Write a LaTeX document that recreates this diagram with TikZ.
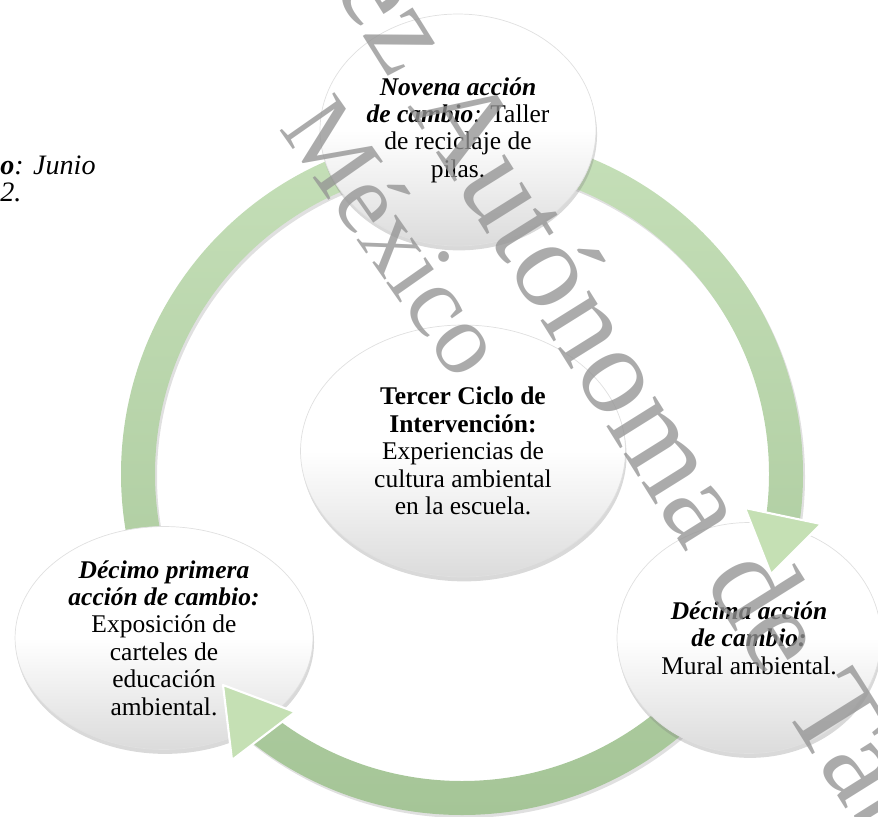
\documentclass[tikz,border=0pt]{standalone}
\usepackage{fontspec}
\setmainfont{Liberation Serif}
\usetikzlibrary{shapes.geometric,shadows}
\definecolor{ringtop}{RGB}{197,223,184}
\definecolor{ringbot}{RGB}{165,197,151}
\definecolor{tipfill}{RGB}{197,224,180}
\begin{document}
\begin{tikzpicture}[x=0.02cm,y=-0.02cm, line join=round,
	bubble/.style={ellipse, inner sep=0pt, outer sep=0pt, align=center,
		draw=black!12, line width=0.4pt,
		top color=white, bottom color=black!14, middle color=white,
		drop shadow={opacity=0.3, shadow xshift=0.6pt, shadow yshift=-2.5pt},
		font=\fontsize{14.5}{15.6}\selectfont},
	tip/.style={fill=tipfill, draw=white, line width=1.2pt},
	wmark/.style={text=black!42, opacity=0.78, anchor=base west, inner sep=0pt},
	side/.style={anchor=base west, inner sep=0pt, font=\fontsize{16}{18}\selectfont}]
	\def\cx{462} \def\cy{474}
	\def\rout{341} \def\rin{307}
	\useasboundingbox (0,0) rectangle (878,817);
	\clip (0,0) rectangle (878,817);
	% anillo
	\fill[black, opacity=0.12, even odd rule] (\cx+2,\cy+3) circle[radius=\rout] (\cx+2,\cy+3) circle[radius=\rin];
	\path[top color=ringtop, bottom color=ringbot, even odd rule] (\cx,\cy) circle[radius=\rout] (\cx,\cy) circle[radius=\rin];
	% circulos
	\node[bubble, minimum width=5.52cm, minimum height=4.64cm] (novena) at (458,130)
		{\textbf{\textit{Novena acción}}\\\textbf{\textit{de cambio}}\textit{:} Taller\\de reciclaje de\\pilas.};
	\node[bubble, minimum width=6.5cm, minimum height=5.04cm] (tercer) at (463,451)
		{\textbf{Tercer Ciclo de}\\\textbf{Intervención:}\\Experiencias de\\cultura ambiental\\en la escuela.};
	\node[bubble, minimum width=5.96cm, minimum height=4.46cm] (decprim) at (164,638)
		{\textbf{\textit{Décimo primera}}\\\textbf{\textit{acción de cambio:}}\\Exposición de\\carteles de\\educación\\ambiental.};
	\node[bubble, minimum width=5.28cm, minimum height=4.62cm] (decima) at (749,638)
		{\textbf{\textit{Décima acción}}\\\textbf{\textit{de cambio:}}\\Mural ambiental.};
	% flechas
	\filldraw[tip] (745,508) -- (821,524) -- (771,574) -- cycle;
	\filldraw[tip] (223,685) -- (295,712) -- (232,760) -- cycle;
	% texto del margen
	\node[side] (fecha) at (0,175) {\textbf{\textit{o}}\textit{:} \textit{Junio}};
	\node[side] (anio) at (0,202) {\textit{2.}};
	% marca de agua
	\node[wmark, rotate=-58, font=\fontsize{71}{80}\selectfont] (wmuno) at (222,-190) {Juárez Autónoma de Tabasco};
	\node[wmark, rotate=-55, font=\fontsize{58}{64}\selectfont] (wmdos) at (278,128) {México};
\end{tikzpicture}
\end{document}
